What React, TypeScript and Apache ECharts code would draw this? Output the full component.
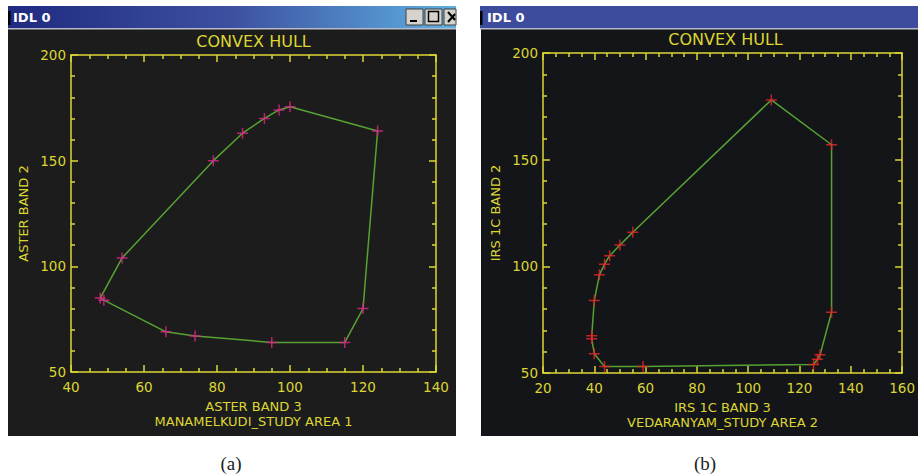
import React, { useEffect, useRef } from "react";
import * as echarts from "echarts";

// Panel (a): Manamelkudi, ASTER band 3 vs band 2 — hull vertices in order (closed)
const hullA: number[][] = [
  [48, 85], [54, 104], [79, 150], [87, 163], [93, 170], [97, 174], [100, 175.5],
  [124, 164], [120, 80], [115, 64], [95, 64], [74, 67], [66, 69], [49, 84], [48, 85],
];
// Panel (b): Vedaranyam, IRS 1C band 3 vs band 2
const hullB: number[][] = [
  [39, 66], [39, 67.5], [40, 84], [42, 96], [44, 101], [46, 105], [50, 110], [55, 116],
  [109, 178], [132.5, 157], [132.5, 78.5], [128, 58.5], [127, 56.5], [125.5, 54],
  [59, 53], [44, 53], [40, 59], [39, 66],
];

const xRangeA = [40, 140];
const xRangeB = [20, 160];
const yRange = [50, 200];

const titleText = "CONVEX HULL";
const xNameA = "ASTER BAND 3";
const subA = "MANAMELKUDI_STUDY AREA 1";
const yNameA = "ASTER BAND 2";
const xNameB = "IRS 1C BAND 3";
const subB = "VEDARANYAM_STUDY AREA 2";
const yNameB = "IRS 1C BAND 2";
const windowTitle = "IDL 0";
const captions = ["(a)", "(b)"];

const YEL = "#dcd634";
const GREEN = "#56a232";
const FONT = "DejaVu Sans";

export default function App() {
  const ref = useRef<HTMLDivElement>(null);
  useEffect(() => {
    if (!ref.current) return;
    const chart = echarts.init(ref.current, undefined, { renderer: "svg" });

    const grids = [
      { left: 71, top: 55, width: 365, height: 317 },
      { left: 543, top: 53, width: 365, height: 320 },
    ];

    const mkX = (gi: number, range: number[], pos: "bottom" | "top", name?: string) => ({
      type: "value",
      gridIndex: gi,
      position: pos,
      min: range[0],
      max: range[1],
      interval: 20,
      name: name,
      nameLocation: "middle",
      nameGap: 23,
      nameTextStyle: { color: YEL, fontFamily: FONT, fontSize: 13, lineHeight: 15 },
      axisLine: { show: true, onZero: false, lineStyle: { color: YEL, width: 1.5 } },
      axisTick: { show: true, inside: true, length: 7, lineStyle: { color: YEL, width: 1.5 } },
      minorTick: { show: true, splitNumber: 4, length: 4, lineStyle: { color: YEL, width: 1.5 } },
      axisLabel: {
        show: pos === "bottom",
        color: YEL,
        fontFamily: FONT,
        fontSize: 13.5,
        margin: 8,
      },
      splitLine: { show: false },
    });
    const mkY = (gi: number, pos: "left" | "right", name?: string) => ({
      type: "value",
      gridIndex: gi,
      position: pos,
      min: yRange[0],
      max: yRange[1],
      interval: 50,
      name: name,
      nameLocation: "middle",
      nameRotate: 90,
      nameGap: 41,
      nameTextStyle: { color: YEL, fontFamily: FONT, fontSize: 13 },
      axisLine: { show: true, onZero: false, lineStyle: { color: YEL, width: 1.5 } },
      axisTick: { show: true, inside: true, length: 7, lineStyle: { color: YEL, width: 1.5 } },
      minorTick: { show: true, splitNumber: 5, length: 4, lineStyle: { color: YEL, width: 1.5 } },
      axisLabel: {
        show: pos === "left",
        color: YEL,
        fontFamily: FONT,
        fontSize: 13.5,
        margin: 5,
      },
      splitLine: { show: false },
    });

    const cross = "path://M0,5L10,5M5,0L5,10";

    const titleBarBtn = (x: number, w: number, glyph: any[]) => ({
      type: "group",
      children: [
        {
          type: "rect",
          shape: { x, y: 9, width: w, height: 16 },
          style: { fill: "#d6d3cc", stroke: "#404040", lineWidth: 1 },
        },
        ...glyph,
      ],
    });

    const option: any = {
      animation: false,
      backgroundColor: "#ffffff",
      grid: grids.map((g) => ({ ...g, containLabel: false })),
      xAxis: [
        mkX(0, xRangeA, "bottom", xNameA + "\n" + subA),
        mkX(0, xRangeA, "top"),
        mkX(1, xRangeB, "bottom", xNameB + "\n" + subB),
        mkX(1, xRangeB, "top"),
      ],
      yAxis: [mkY(0, "left", yNameA), mkY(0, "right"), mkY(1, "left", yNameB), mkY(1, "right")],
      series: [
        {
          type: "line",
          xAxisIndex: 0,
          yAxisIndex: 0,
          data: hullA,
          symbol: "none",
          lineStyle: { color: GREEN, width: 1.5 },
          z: 3,
        },
        {
          type: "scatter",
          xAxisIndex: 0,
          yAxisIndex: 0,
          data: hullA.slice(0, hullA.length - 1),
          symbol: cross,
          symbolSize: 11,
          itemStyle: { color: "rgba(0,0,0,0)", borderColor: "#e0248c", borderWidth: 1.5 },
          z: 4,
        },
        {
          type: "line",
          xAxisIndex: 2,
          yAxisIndex: 2,
          data: hullB,
          symbol: "none",
          lineStyle: { color: GREEN, width: 1.5 },
          z: 3,
        },
        {
          type: "scatter",
          xAxisIndex: 2,
          yAxisIndex: 2,
          data: hullB.slice(0, hullB.length - 1),
          symbol: cross,
          symbolSize: 11,
          itemStyle: { color: "rgba(0,0,0,0)", borderColor: "#e8262a", borderWidth: 1.5 },
          z: 4,
        },
      ],
      graphic: [
        // Left window
        { type: "rect", z: -10, shape: { x: 8, y: 29, width: 448, height: 407 }, style: { fill: "#1c1c1c" } },
        {
          type: "rect",
          z: -10,
          shape: { x: 8, y: 6, width: 448, height: 22 },
          style: {
            fill: new echarts.graphic.LinearGradient(0, 0, 1, 0, [
              { offset: 0, color: "#1f2a80" },
              { offset: 0.5, color: "#3d50a0" },
              { offset: 1, color: "#5eb0e2" },
            ]),
          },
        },
        { type: "rect", z: -9, shape: { x: 8, y: 28, width: 448, height: 1.5 }, style: { fill: "#b8bcc8" } },
        { type: "rect", z: -9, shape: { x: 8, y: 11, width: 2.5, height: 14 }, style: { fill: "#000000" } },
        {
          type: "text",
          z: -8,
          x: 13,
          y: 17,
          style: { text: windowTitle, fill: "#ffffff", font: "bold 13px " + FONT, textVerticalAlign: "middle" },
        },
        titleBarBtn(406, 17, [
          { type: "rect", shape: { x: 410, y: 20, width: 7, height: 2 }, style: { fill: "#000" } },
        ]),
        titleBarBtn(425, 17, [
          { type: "rect", shape: { x: 428.5, y: 11.5, width: 10, height: 10 }, style: { fill: "none", stroke: "#000", lineWidth: 1.5 } },
        ]),
        titleBarBtn(444, 12, [
          { type: "line", shape: { x1: 448, y1: 12, x2: 455, y2: 20 }, style: { stroke: "#000", lineWidth: 2 } },
          { type: "line", shape: { x1: 448, y1: 22, x2: 455, y2: 14 }, style: { stroke: "#000", lineWidth: 2 } },
        ]),
        // Right window
        { type: "rect", z: -10, shape: { x: 481, y: 29, width: 437, height: 407 }, style: { fill: "#141518" } },
        { type: "rect", z: -10, shape: { x: 480, y: 6, width: 438, height: 22 }, style: { fill: "#3d4b9c" } },
        { type: "rect", z: -9, shape: { x: 480, y: 28, width: 438, height: 1.5 }, style: { fill: "#b8bcc8" } },
        { type: "rect", z: -9, shape: { x: 480, y: 11, width: 2.5, height: 14 }, style: { fill: "#000000" } },
        {
          type: "text",
          z: -8,
          x: 487,
          y: 17,
          style: { text: windowTitle, fill: "#ffffff", font: "bold 13px " + FONT, textVerticalAlign: "middle" },
        },
        // Plot titles
        {
          type: "text",
          x: 253.5,
          y: 41.5,
          style: { text: titleText, fill: YEL, font: "16px " + FONT, textAlign: "center", textVerticalAlign: "middle" },
        },
        {
          type: "text",
          x: 725.5,
          y: 39.5,
          style: { text: titleText, fill: YEL, font: "16px " + FONT, textAlign: "center", textVerticalAlign: "middle" },
        },
        // Captions
        {
          type: "text",
          x: 231,
          y: 463,
          style: { text: captions[0], fill: "#222", font: "19px 'Liberation Serif', serif", textAlign: "center", textVerticalAlign: "middle" },
        },
        {
          type: "text",
          x: 705,
          y: 463,
          style: { text: captions[1], fill: "#222", font: "19px 'Liberation Serif', serif", textAlign: "center", textVerticalAlign: "middle" },
        },
      ],
    };
    chart.setOption(option);
    return () => chart.dispose();
  }, []);
  return (
    <div
      ref={ref}
      style={{ position: "fixed", left: 0, top: 0, width: 918, height: 474 }}
    />
  );
}
